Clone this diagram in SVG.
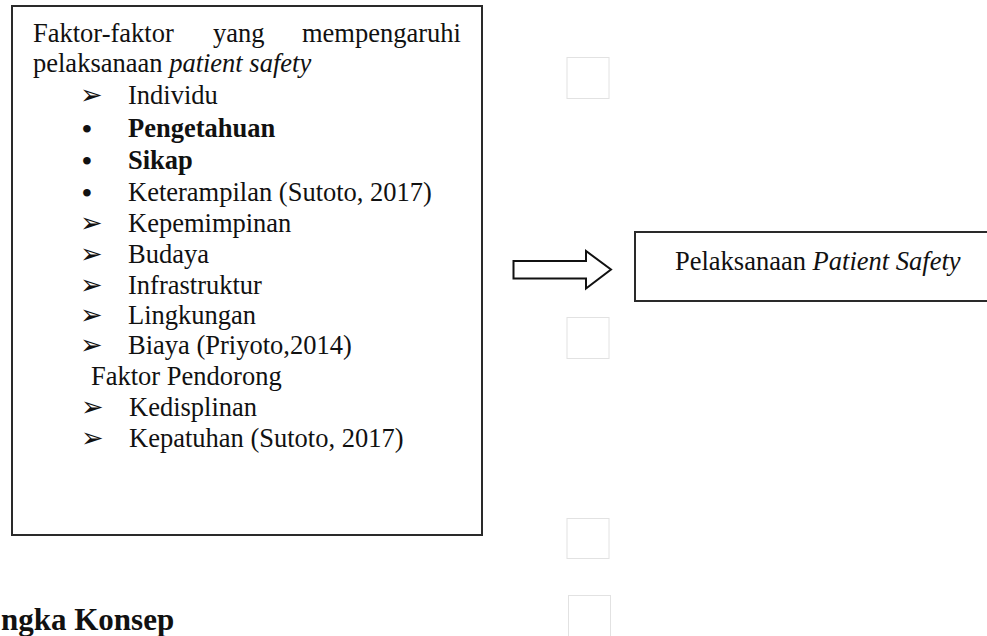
<svg xmlns="http://www.w3.org/2000/svg" width="987" height="636" viewBox="0 0 987 636">
<style>
  .t { font-family: "Liberation Serif", "Times New Roman", serif; font-size: 26.5px; fill: #111; }
  .b { font-weight: bold; }
  .i { font-style: italic; }
  .dot { font-family: "Liberation Serif", "Times New Roman", serif; font-size: 28px; font-weight: bold; fill: #111; }
  .arr { font-family: "DejaVu Sans", sans-serif; font-size: 27px; fill: #111; }
  .box { fill: #fff; stroke: #2a2a2a; stroke-width: 2; }
  .ghost { fill: none; stroke: #e2e2e2; stroke-width: 1; }
  .head { font-size: 31px; }
</style>
<rect width="987" height="636" fill="#fff"/>
<g id="ghosts">
  <rect class="ghost" x="567" y="57.5" width="42" height="41"/>
  <rect class="ghost" x="567" y="317.5" width="42" height="41"/>
  <rect class="ghost" x="567" y="518.5" width="42" height="40"/>
  <rect class="ghost" x="568.5" y="595.5" width="42" height="45"/>
</g>
<g id="factors">
  <rect class="box" x="12" y="6" width="470" height="529"/>
  <text class="t" y="42"><tspan x="33">Faktor-faktor</tspan><tspan x="213">yang</tspan><tspan x="302">mempengaruhi</tspan></text>
  <text class="t" x="33" y="72">pelaksanaan <tspan class="i">patient safety</tspan></text>
  <text class="arr" x="80" y="104">➢</text>
  <text class="t" x="128" y="104">Individu</text>
  <text class="dot" x="82" y="138">•</text>
  <text class="t b" x="128" y="137">Pengetahuan</text>
  <text class="dot" x="82" y="170">•</text>
  <text class="t b" x="128" y="169">Sikap</text>
  <text class="dot" x="82" y="202">•</text>
  <text class="t" x="128" y="201">Keterampilan (Sutoto, 2017)</text>
  <text class="arr" x="80" y="232">➢</text>
  <text class="t" x="128" y="232">Kepemimpinan</text>
  <text class="arr" x="80" y="263">➢</text>
  <text class="t" x="128" y="263">Budaya</text>
  <text class="arr" x="80" y="294">➢</text>
  <text class="t" x="128" y="294">Infrastruktur</text>
  <text class="arr" x="80" y="324">➢</text>
  <text class="t" x="128" y="324">Lingkungan</text>
  <text class="arr" x="80" y="354">➢</text>
  <text class="t" x="128" y="354">Biaya (Priyoto,2014)</text>
  <text class="t" x="91" y="385">Faktor Pendorong</text>
  <text class="arr" x="81" y="416">➢</text>
  <text class="t" x="129" y="416">Kedisplinan</text>
  <text class="arr" x="81" y="447">➢</text>
  <text class="t" x="129" y="447">Kepatuhan (Sutoto, 2017)</text>
</g>
<g id="connectors">
  <path d="M513.5,261 H586 V251 L611,269.5 L586,288.5 V278.5 H513.5 Z" fill="#fff" stroke="#111" stroke-width="2" stroke-linejoin="miter"/>
</g>
<g id="outcome">
  <rect class="box" x="635" y="232" width="360" height="69"/>
  <text class="t" x="675" y="270">Pelaksanaan <tspan class="i">Patient Safety</tspan></text>
</g>
<g id="heading">
  <text class="t b head" x="1" y="630">ngka Konsep</text>
</g>
</svg>
